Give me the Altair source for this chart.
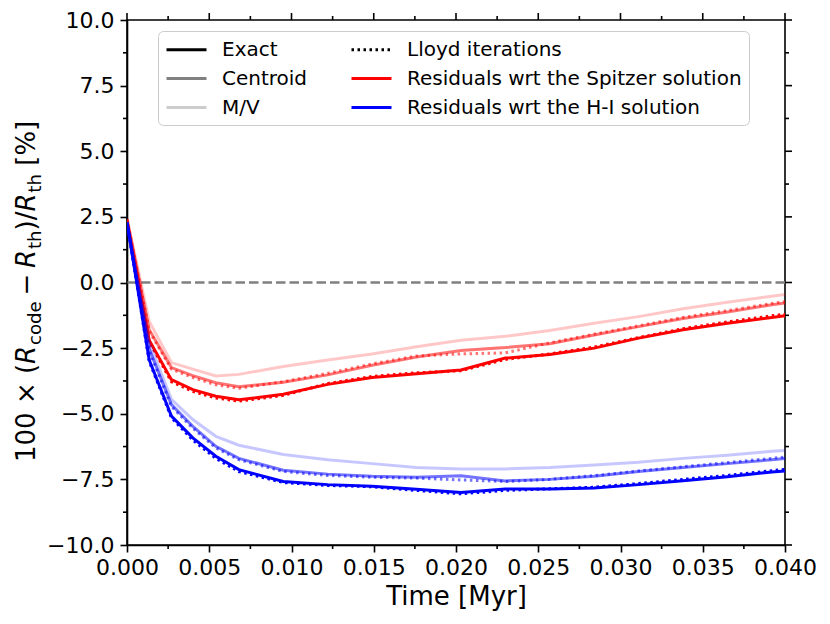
import altair as alt
import pandas as pd

# ---------------- data ----------------
T = [0.0, 0.00135, 0.0027, 0.0040, 0.0054, 0.0068, 0.0095, 0.0122, 0.0149, 0.0176,
     0.0203, 0.0230, 0.0257, 0.0284, 0.0311, 0.0338, 0.0365, 0.0392, 0.0400]

red_exact = [2.35, -2.2, -3.7, -4.08, -4.33, -4.47, -4.26, -3.88, -3.62, -3.48,
             -3.33, -2.88, -2.74, -2.5, -2.12, -1.8, -1.55, -1.33, -1.27]
red_exact_lloyd = [2.35, -2.25, -3.78, -4.15, -4.4, -4.52, -4.3, -3.85, -3.58, -3.44,
                   -3.36, -2.93, -2.72, -2.46, -2.1, -1.76, -1.5, -1.27, -1.21]
red_centroid = [2.4, -1.8, -3.24, -3.55, -3.82, -3.97, -3.8, -3.52, -3.15, -2.84,
                -2.59, -2.48, -2.33, -2.0, -1.68, -1.37, -1.12, -0.85, -0.78]
red_centroid_lloyd = [2.4, -1.85, -3.3, -3.62, -3.9, -4.03, -3.78, -3.46, -3.1, -2.8,
                      -2.72, -2.68, -2.3, -1.97, -1.65, -1.33, -1.07, -0.8, -0.73]
red_mv = [2.45, -1.48, -3.05, -3.3, -3.56, -3.5, -3.2, -2.95, -2.72, -2.45,
          -2.2, -2.05, -1.83, -1.55, -1.3, -1.0, -0.75, -0.52, -0.46]

blue_exact = [2.3, -2.95, -5.09, -5.92, -6.62, -7.13, -7.58, -7.7, -7.76, -7.88,
              -8.0, -7.87, -7.87, -7.83, -7.7, -7.55, -7.4, -7.22, -7.18]
blue_exact_lloyd = [2.3, -3.0, -5.15, -6.0, -6.7, -7.2, -7.62, -7.73, -7.78, -7.92,
                    -8.05, -7.92, -7.86, -7.8, -7.66, -7.5, -7.35, -7.17, -7.12]
blue_centroid = [2.3, -2.54, -4.65, -5.48, -6.24, -6.7, -7.15, -7.3, -7.38, -7.42,
                 -7.36, -7.56, -7.5, -7.38, -7.2, -7.05, -6.9, -6.75, -6.7]
blue_centroid_lloyd = [2.3, -2.6, -4.72, -5.55, -6.3, -6.75, -7.2, -7.35, -7.42, -7.45,
                       -7.52, -7.58, -7.5, -7.36, -7.18, -7.02, -6.86, -6.7, -6.65]
blue_mv = [2.3, -2.29, -4.45, -5.22, -5.86, -6.2, -6.55, -6.75, -6.9, -7.05,
           -7.1, -7.1, -7.05, -6.95, -6.85, -6.7, -6.58, -6.43, -6.4]

x_major = [0.0, 0.005, 0.010, 0.015, 0.020, 0.025, 0.030, 0.035, 0.040]
x_minor = [0.0025, 0.0075, 0.0125, 0.0175, 0.0225, 0.0275, 0.0325, 0.0375]
y_major = [-10.0, -7.5, -5.0, -2.5, 0.0, 2.5, 5.0, 7.5, 10.0]
y_minor = [-8.75, -6.25, -3.75, -1.25, 1.25, 3.75, 6.25, 8.75]

# legend entries, listed column by column
legend_labels = ["Exact", "Centroid", "M/V", "Lloyd iterations",
                 "Residuals wrt the Spitzer solution",
                 "Residuals wrt the H-I solution"]

# ---------------- styling ----------------
W, H = 658, 525
RED, BLUE = "#ff0000", "#0000ff"
A_EXACT, A_CEN, A_MV = 1.0, 0.55, 0.22
LW = 3
DOT = [2.5, 3.5]
FONT = "DejaVu Sans"

xscale = alt.Scale(domain=[0, 0.04], nice=False, zero=False)
yscale = alt.Scale(domain=[-10, 10], nice=False, zero=False)
xaxis = alt.Axis(values=x_major, format=".3f", tickSize=7, labelFontSize=22,
                 labelPadding=5, title="Time [Myr]", titleFontSize=26,
                 titleFontWeight="normal", titlePadding=5, titleColor="black",
                 labelFlush=False, labelOverlap=False)
yaxis = alt.Axis(values=y_major, format=".1f", tickSize=7, labelFontSize=22,
                 labelPadding=6, title=None, labelOverlap=False)

X = alt.X("t:Q", scale=xscale, axis=xaxis)
Y = alt.Y("v:Q", scale=yscale, axis=yaxis)

layers = []

# zero reference line
layers.append(
    alt.Chart(pd.DataFrame({"v": [0.0]})).mark_rule(
        color="#808080", strokeWidth=2.5, strokeDash=[9.5, 4]
    ).encode(y=Y)
)

series = [
    (red_mv, RED, A_MV, None),
    (red_centroid, RED, A_CEN, None), (red_centroid_lloyd, RED, A_CEN, DOT),
    (red_exact, RED, A_EXACT, None), (red_exact_lloyd, RED, A_EXACT, DOT),
    (blue_mv, BLUE, A_MV, None),
    (blue_centroid, BLUE, A_CEN, None), (blue_centroid_lloyd, BLUE, A_CEN, DOT),
    (blue_exact, BLUE, A_EXACT, None), (blue_exact_lloyd, BLUE, A_EXACT, DOT),
]
for vals, col, a, dash in series:
    kw = dict(color=col, opacity=a, strokeWidth=LW, clip=True)
    if dash is not None:
        kw["strokeDash"] = dash
    layers.append(alt.Chart(pd.DataFrame({"t": T, "v": vals})).mark_line(**kw)
                  .encode(x=X, y=Y))

# legend (native, from a scale with an explicit domain; no visible data)
leg_df = pd.DataFrame({"t": [None] * 6, "v": [None] * 6, "entry": legend_labels})
leg_colors = ["#000000", "#808080", "#cccccc", "#000000", RED, BLUE]
leg_dashes = [[1, 0], [1, 0], [1, 0], [2.5, 3.5], [1, 0], [1, 0]]
legend_kw = dict(title=None, orient="none", legendX=31, legendY=11, columns=2,
                 symbolType="M-2,0L2,0", symbolSize=400, symbolStrokeWidth=3,
                 symbolOffset=10,
                 labelFontSize=20, labelFont=FONT, labelColor="black",
                 labelOffset=24, labelLimit=600, columnPadding=37, rowPadding=7,
                 padding=7, strokeColor="#cccccc", fillColor="white",
                 cornerRadius=5)
layers.append(
    alt.Chart(leg_df).mark_line().encode(
        x=X, y=Y,
        color=alt.Color("entry:N", scale=alt.Scale(domain=legend_labels, range=leg_colors),
                        legend=alt.Legend(**legend_kw)),
        strokeDash=alt.StrokeDash("entry:N",
                                  scale=alt.Scale(domain=legend_labels, range=leg_dashes),
                                  legend=alt.Legend(**legend_kw)),
    )
)

# extra ticks: minor ticks, plus top and right axes (outward)
xmaj_df = pd.DataFrame({"t": x_major})
xmin_df = pd.DataFrame({"t": x_minor})
ymaj_df = pd.DataFrame({"v": y_major})
ymin_df = pd.DataFrame({"v": y_minor})
tick_style = dict(color="black", strokeWidth=1.6)
layers += [
    alt.Chart(xmin_df).mark_rule(**tick_style).encode(x=X, y=alt.value(H), y2=alt.value(H + 4)),
    alt.Chart(xmaj_df).mark_rule(**tick_style).encode(x=X, y=alt.value(0), y2=alt.value(-7)),
    alt.Chart(xmin_df).mark_rule(**tick_style).encode(x=X, y=alt.value(0), y2=alt.value(-4)),
    alt.Chart(ymin_df).mark_rule(**tick_style).encode(y=Y, x=alt.value(0), x2=alt.value(-4)),
    alt.Chart(ymaj_df).mark_rule(**tick_style).encode(y=Y, x=alt.value(W), x2=alt.value(W + 7)),
    alt.Chart(ymin_df).mark_rule(**tick_style).encode(y=Y, x=alt.value(W), x2=alt.value(W + 4)),
]

# y-axis title with italic R and subscripts, composed from text pieces
CW = {'1': .636, '0': .636, ' ': .318, '×': .838, '(': .390, ')': .390, 'R': .695,
      'c': .550, 'o': .612, 'd': .635, 'e': .615, '−': .838, 't': .392, 'h': .634,
      '/': .337, '[': .390, '%': .950, ']': .390}
FS = 26
SUBF = 0.7
SUB_SHIFT = 5.5
pieces = [  # text, size factor, style, subscript?, gap before (em)
    ("100 × (", 1, "normal", False, 0),
    ("R", 1, "italic", False, 0),
    ("code", SUBF, "normal", True, 0.03),
    ("−", 1, "normal", False, 0.22),
    ("R", 1, "italic", False, 0.22),
    ("th", SUBF, "normal", True, 0.03),
    (")/", 1, "normal", False, 0),
    ("R", 1, "italic", False, 0),
    ("th", SUBF, "normal", True, 0.03),
    ("[%]", 1, "normal", False, 0.318),
]
XB = -92          # baseline position, left of the plot
ystart = 442      # bottom end of the title
pos = 0.0
for txt, sf, style, sub, gap in pieces:
    pos += gap * FS
    layers.append(
        alt.Chart(pd.DataFrame({"a": [0]})).mark_text(
            text=txt, angle=270, align="left", baseline="alphabetic",
            fontSize=FS * sf, font=FONT, fontStyle=style, color="black"
        ).encode(x=alt.value(XB + (SUB_SHIFT if sub else 0)), y=alt.value(ystart - pos))
    )
    pos += sum(CW[c] for c in txt) * FS * sf

chart = alt.layer(*layers).properties(
    width=W, height=H,
    padding={"left": 119, "top": 12, "right": 37, "bottom": 71},
    autosize=alt.AutoSizeParams(type="none"),
).configure_view(
    stroke="black", strokeWidth=1.6
).configure_axis(
    domainColor="black", domainWidth=1.6, tickColor="black", tickWidth=1.6,
    labelColor="black", labelFont=FONT, titleFont=FONT, grid=False
)

chart.save("out.html", embed_options={"renderer": "svg", "actions": False})
